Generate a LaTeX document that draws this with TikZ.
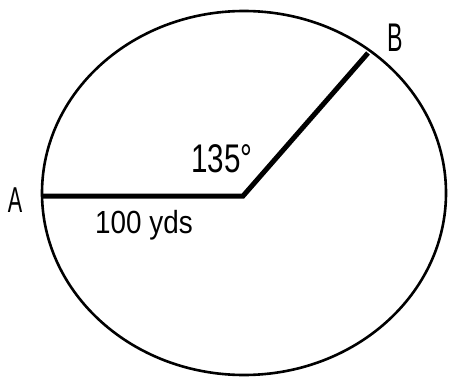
\documentclass[tikz,border=0pt]{standalone}
\usepackage{fontspec}
\setmainfont{Liberation Sans}
\tikzset{
  rim/.style={line width=2.6pt},
  radius line/.style={line width=5pt, line cap=butt, line join=miter},
  lbl/.style={anchor=base, inner sep=0pt, text=black}
}
\begin{document}
\begin{tikzpicture}[x=1pt,y=-1pt]
\useasboundingbox (0,0) rectangle (449,377);
\coordinate (E) at (244,193);
\coordinate (C) at (243,196);
\coordinate (pA) at (42,196);
\coordinate (pB) at (368,53);
\draw[rim] (E) ellipse [x radius=202pt, y radius=182pt];
\draw[radius line] (pA) -- (C) -- (pB);
\node[lbl, font=\fontsize{36}{36}\selectfont, xscale=0.6] (lA) at (15,212) {A};
\node[lbl, font=\fontsize{40}{40}\selectfont, xscale=0.58] (lB) at (395,52) {B};
\node[lbl, font=\fontsize{40}{40}\selectfont, xscale=0.74] (lang) at (222,172) {135°};
\node[lbl, font=\fontsize{32}{32}\selectfont, xscale=0.87] (llen) at (144,233) {100 yds};
\end{tikzpicture}
\end{document}
